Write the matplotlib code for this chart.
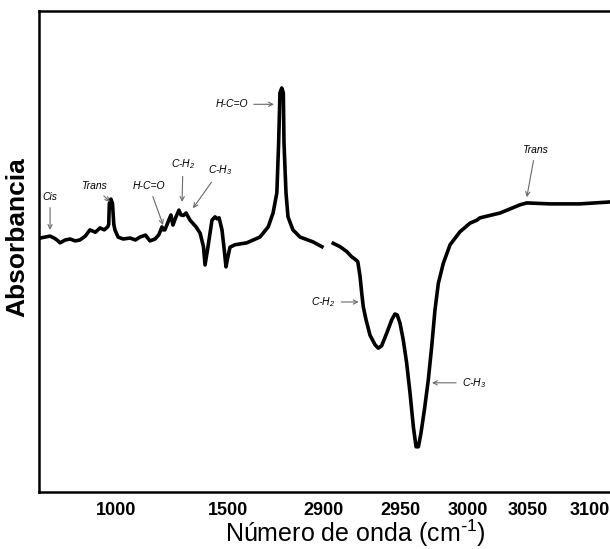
import numpy as np
import matplotlib
matplotlib.use('Agg')
from matplotlib import pyplot as plt
from matplotlib.ticker import NullLocator

plt.rcParams['font.family'] = ['Liberation Sans', 'DejaVu Sans']

# fingerprint region (cm-1, absorbance a.u.)
wn_low = [657, 680, 702, 720, 733, 747, 770, 792, 815, 836, 860, 881, 905, 926, 945,
          960, 965, 968, 975, 982, 988, 993, 1007, 1030, 1061, 1085, 1105, 1130,
          1150, 1173, 1190, 1204, 1210, 1217, 1230, 1244, 1253, 1265, 1280, 1289,
          1300, 1312, 1330, 1357, 1375, 1390, 1397, 1410, 1428, 1442, 1451, 1460,
          1473, 1484, 1491, 1500, 1509, 1531, 1584, 1643, 1680, 1702, 1719, 1727,
          1733, 1741, 1748, 1751, 1760, 1769, 1791, 1823, 1881, 1921]
abs_low = [0.528, 0.530, 0.532, 0.528, 0.524, 0.518, 0.524, 0.526, 0.522, 0.524,
           0.532, 0.545, 0.540, 0.549, 0.545, 0.551, 0.556, 0.600, 0.609, 0.600,
           0.556, 0.545, 0.530, 0.526, 0.528, 0.524, 0.530, 0.534, 0.522, 0.526,
           0.535, 0.551, 0.545, 0.545, 0.560, 0.576, 0.555, 0.570, 0.586, 0.576,
           0.575, 0.580, 0.565, 0.551, 0.538, 0.510, 0.472, 0.509, 0.565, 0.572,
           0.568, 0.570, 0.545, 0.500, 0.468, 0.490, 0.509, 0.514, 0.518, 0.530,
           0.551, 0.580, 0.622, 0.726, 0.830, 0.840, 0.830, 0.726, 0.622, 0.572,
           0.545, 0.530, 0.520, 0.510]

# C-H stretching region
wn_high = [2906.4, 2910.8, 2915.2, 2918.4, 2920.6, 2922.4, 2923.9, 2925.0, 2926.0,
           2927.8, 2930.4, 2933.7, 2935.8, 2938.0, 2941.3, 2944.6, 2946.7, 2948.2,
           2950.0, 2952.4, 2954.9, 2957.4, 2959.8, 2961.8, 2963.5, 2965.4, 2967.9,
           2970.8, 2973.3, 2975.7, 2978.2, 2981.8, 2986.8, 2994.1, 3001.7, 3007.3,
           3010.0, 3026.7, 3043.3, 3049.0, 3067.7, 3091.9, 3116.0]
abs_high = [0.517, 0.510, 0.500, 0.489, 0.484, 0.479, 0.448, 0.413, 0.385, 0.358,
            0.326, 0.306, 0.299, 0.304, 0.330, 0.358, 0.370, 0.368, 0.351, 0.316,
            0.268, 0.205, 0.136, 0.094, 0.094, 0.122, 0.170, 0.233, 0.302, 0.378,
            0.434, 0.475, 0.514, 0.541, 0.559, 0.565, 0.570, 0.580, 0.597, 0.601,
            0.599, 0.599, 0.603]

tick_vals = [1000, 1500, 2900, 2950, 3000, 3050, 3100]

# (label, text_wn, text_y, tip_wn, tip_y)
notes = [
    ('Cis', 702, 0.613, 702, 0.545),
    ('Trans', 899, 0.636, 971, 0.603),
    ('H-C=O', 1146, 0.636, 1209, 0.555),
    ('C-H$\\mathregular{_2}$', 1298, 0.682, 1294, 0.603),
    ('C-H$\\mathregular{_3}$', 1464, 0.669, 1343, 0.590),
    ('H-C=O', 1518, 0.806, 1706, 0.806),
    ('C-H$\\mathregular{_2}$', 2899, 0.395, 2923, 0.395),
    ('C-H$\\mathregular{_3}$', 3005, 0.227, 2973.5, 0.227),
    ('Trans', 3056, 0.711, 3049, 0.613),
]

# broken wavenumber axis: piecewise linear mapping to screen position
knot_w = [0, 652.5, 1000, 1500, 1925, 2900, 2950, 3000, 3050, 3100, 3125, 5000]
knot_p = [-106.5, 39, 116.5, 228, 322.8, 323.5, 400, 468, 528, 590, 621, 2946]


def fwd(x):
    return np.interp(x, knot_w, knot_p)


def inv(p):
    return np.interp(p, knot_p, knot_w)


fig = plt.figure(figsize=(6.10, 5.49), dpi=100)
ax = fig.add_axes([39 / 610, 1 - 492 / 549, (621 - 39) / 610, (492 - 11) / 549])
ax.set_xscale('function', functions=(fwd, inv))

ax.plot(wn_low, abs_low, color='black', lw=2.6, solid_joinstyle='round')
ax.plot(wn_high, abs_high, color='black', lw=2.6, solid_joinstyle='round')

for label, tx, ty, px, py in notes:
    ax.annotate(label, xy=(px, py), xytext=(tx, ty), fontsize=7.5, style='italic',
                ha='center', va='center',
                arrowprops=dict(arrowstyle='->', color='#6a6a6a', lw=0.8,
                                shrinkA=2, shrinkB=0))

ax.set_xlim(652.5, 3125)
ax.set_ylim(0, 1)
ax.set_xticks(tick_vals)
ax.set_xticklabels([str(v) for v in tick_vals])
ax.xaxis.set_minor_locator(NullLocator())
ax.set_yticks([])
ax.tick_params(axis='x', length=0, pad=7, labelsize=13)
for lbl in ax.get_xticklabels():
    lbl.set_fontweight('bold')

for side in ['left', 'top', 'bottom', 'right']:
    ax.spines[side].set_linewidth(1.8)

ax.set_xlabel('Número de onda (cm$\\mathregular{^{\\text{-}1}}$)', fontsize=18)
ax.xaxis.set_label_coords((355 - 39) / 582, -0.054)
ax.set_ylabel('Absorbancia', fontsize=19, fontweight='bold')
ax.yaxis.set_label_coords(-0.016, (492 - 237) / 481)

fig.savefig('out.png', dpi=100)
